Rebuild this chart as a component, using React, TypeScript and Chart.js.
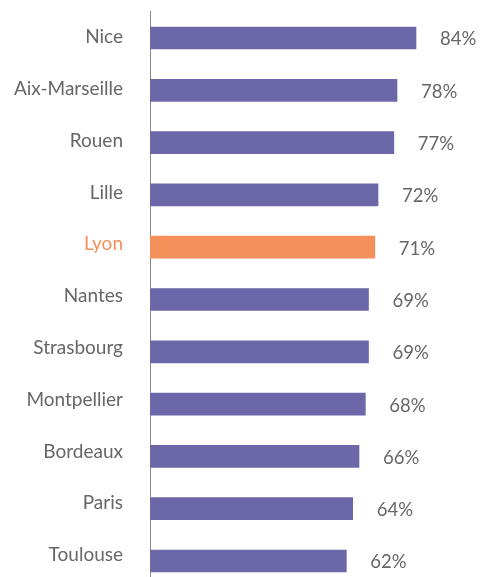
import React, { useEffect, useRef } from "react";
import { Chart, registerables } from "chart.js";

Chart.register(...registerables);

const cities = ["Nice", "Aix-Marseille", "Rouen", "Lille", "Lyon", "Nantes", "Strasbourg", "Montpellier", "Bordeaux", "Paris", "Toulouse"];
const values = [84, 78, 77, 72, 71, 69, 69, 68, 66, 64, 62];
const highlight = "Lyon";

const PURPLE = "#6c67a8";
const ORANGE = "#f5905a";
const TEXT = "#666666";
const FONT = "Lato";

const LABEL_MIN = -0.4855;
const LABEL_MAX = 10.62;

const valueLabels = {
  id: "valueLabels",
  afterDatasetsDraw(chart: any) {
    const ctx = chart.ctx;
    const meta = chart.getDatasetMeta(0);
    ctx.save();
    ctx.font = `18.5px ${FONT}`;
    ctx.fillStyle = TEXT;
    ctx.textAlign = "left";
    ctx.textBaseline = "middle";
    meta.data.forEach((bar: any, i: number) => {
      ctx.fillText(values[i] + "%", bar.x + 24, bar.y + 1.5);
    });
    ctx.restore();
  },
};

export default function App() {
  const ref = useRef<HTMLCanvasElement>(null);
  useEffect(() => {
    if (!ref.current) return;
    const chart = new Chart(ref.current, {
      type: "bar",
      data: {
        labels: cities,
        datasets: [
          {
            data: values,
            backgroundColor: cities.map((c) => (c === highlight ? ORANGE : PURPLE)),
            barThickness: 22,
          },
        ],
      },
      options: {
        indexAxis: "y",
        animation: false,
        responsive: false,
        devicePixelRatio: 1,
        layout: { padding: { top: 11.85, bottom: 12.85, left: 0, right: 13.33 } },
        plugins: { legend: { display: false }, tooltip: { enabled: false } },
        scales: {
          x: { display: false, min: 0, max: 100 },
          y: { display: false },
          yl: {
            type: "linear",
            position: "left",
            reverse: true,
            offset: false,
            bounds: "data",
            min: LABEL_MIN,
            max: LABEL_MAX,
            afterBuildTicks: (s: any) => {
              s.ticks = cities.map((_, i) => ({ value: i }));
              s.min = LABEL_MIN;
              s.max = LABEL_MAX;
            },
            afterFit: (s: any) => {
              s.width = 150;
              s.paddingTop = 0;
              s.paddingBottom = 0;
            },
            grid: { display: false, drawTicks: false, offset: false },
            border: { display: true, color: "#888888", width: 1 },
            ticks: {
              autoSkip: false,
              padding: 27,
              font: { family: FONT, size: 19 },
              callback: (v: any) => cities[Math.round(v)],
              color: (c: any) => (cities[c.index] === highlight ? ORANGE : TEXT),
            },
          },
        },
      },
      plugins: [valueLabels],
    });
    return () => chart.destroy();
  }, []);
  return (
    <div style={{ position: "fixed", left: 0, top: 0, width: 480, height: 577, overflow: "hidden", background: "#fff" }}>
      <canvas ref={ref} width={480} height={600} style={{ display: "block", width: 480, height: 600 }} />
    </div>
  );
}
